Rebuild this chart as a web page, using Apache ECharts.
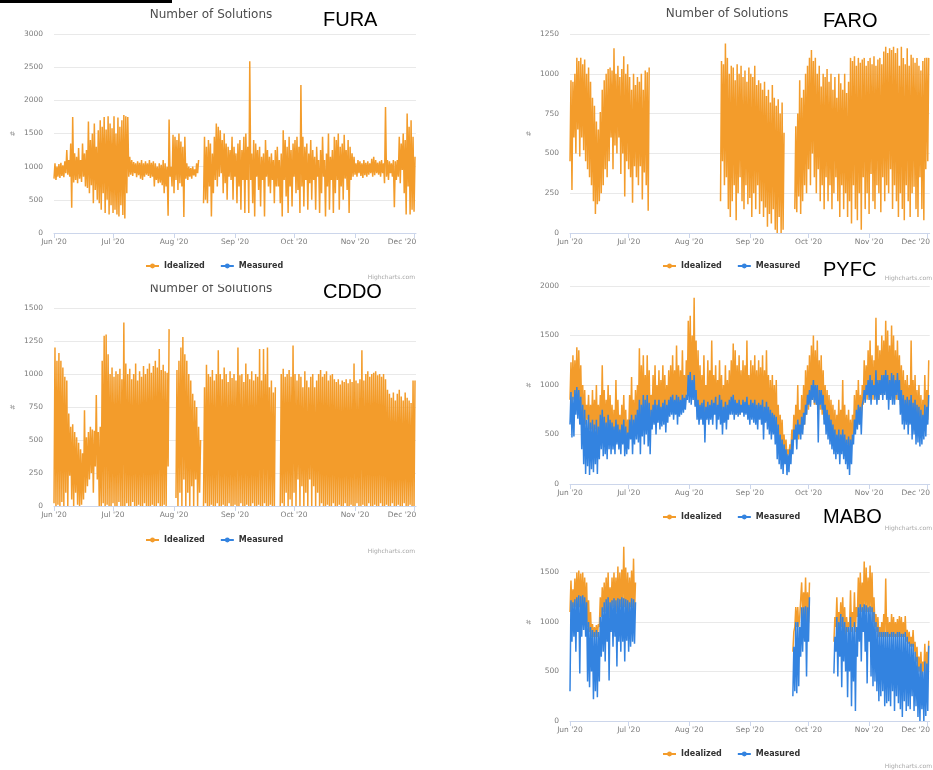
<!DOCTYPE html>
<html>
<head>
<meta charset="utf-8">
<script src="https://cdn.jsdelivr.net/npm/echarts@6/dist/echarts.min.js"></script>
<style>
  html, body { margin: 0; padding: 0; background: #fff; }
  #chart { width: 933px; height: 770px; }
</style>
</head>
<body>
<div id="chart"></div>
<script>
// Day index 0 = 1 Jun 2020, one low and one high reading per day
const monthDays = [0, 30, 61, 92, 122, 153, 183];
const monthLabels = ["Jun '20", "Jul '20", "Aug '20", "Sep '20", "Oct '20", "Nov '20", "Dec '20"];
const seriesNames = ['Idealized', 'Measured'];

const furaLow = [
  820, 800, 850, 830, 860, 840, 900, 880, 850, 380,
  760, 800, 750, 820, 770, 850, 700, 680, 600, 720,
  450, 650, 500, 450, 350, 600, 300, 500, 280, 420,
  300, 350, 280, 250, 420, 270, 220, 600, 850, 880,
  860, 900, 840, 870, 820, 800, 850, 880, 860, 830,
  850, 700, 800, 750, 760, 720, 600, 700, 260, 850,
  700, 600, 800, 650, 750, 700, 240, 820, 800, 850,
  820, 870, 850, 900, null, null, 450, 500, 450, 700,
  250, 600, 800, 700, 850, 900, 600, 750, 500, 850,
  800, 500, 850, 450, 700, 350, 800, 300, 800, 300,
  800, 450, 250, 850, 650, 400, 800, 250, 850, 700,
  600, 800, 450, 700, 700, 450, 250, 800, 550, 300,
  700, 400, 850, 600, 650, 300, 700, 400, 800, 350,
  750, 500, 800, 350, 850, 300, 600, 850, 250, 700,
  350, 800, 300, 600, 800, 350, 700, 500, 820, 650,
  300, 800, 850, 880, 850, 900, 860, 830, 870, 850,
  880, 900, 850, 870, 900, 880, 850, 900, 750, 850,
  800, 900, 850, 390, 800, 850, 750, 950, 600, 280,
  700, 280, 350, 320
];
const furaHigh = [
  1050, 1000, 1040, 1060, 1020, 1080, 1250, 1100, 1350, 1750,
  1200, 1150, 1280, 1100, 1350, 1200, 1250, 1680, 1400, 1500,
  1650, 1300, 1550, 1700, 1600, 1750, 1560, 1760, 1650, 1580,
  1760, 1500, 1740, 1600, 1700, 1780, 1760, 1750, 1150, 1100,
  1070, 1050, 1080, 1060, 1100, 1050, 1080, 1050, 1100, 1060,
  1080, 1050, 1000, 1050, 1030, 1100, 1050, 1000, 1710, 1000,
  1480, 1450, 1400, 1500, 1380, 1300, 1450, 1050, 1000, 980,
  1000, 960, 1050, 1100, null, null, 1450, 1300, 1400, 1350,
  1200, 1450, 1650, 1600, 1550, 1400, 1500, 1350, 1300, 1250,
  1450, 1300, 1200, 1350, 1400, 1250, 1450, 1500, 1300, 2590,
  1200, 1400, 1350, 1250, 1300, 1150, 1200, 1400, 1250, 1150,
  1200, 1100, 1250, 1300, 1100, 1200, 1550, 1400, 1300, 1450,
  1250, 1350, 1400, 1450, 1300, 2230, 1450, 1300, 1350, 1200,
  1400, 1250, 1150, 1300, 1100, 1250, 1450, 1100, 1200, 1500,
  1150, 1250, 1450, 1400, 1500, 1300, 1350, 1480, 1250, 1400,
  1300, 1200, 1150, 1050, 1100, 1080, 1050, 1100, 1060, 1080,
  1050, 1120, 1150, 1100, 1060, 1080, 1100, 1050, 1900, 1100,
  1080, 1050, 1100, 1080, 1100, 1450, 1350, 1500, 1400, 1800,
  1600, 1700, 1450, 1150
];

const faroLow = [
  450, 270, 600, 500, 650, 480, 600, 520, 450, 400,
  350, 300, 200, 120, 180, 200, 250, 300, 400, 350,
  450, 600, 400, 550, 500, 600, 370, 500, 230, 450,
  400, 350, 190, 420, 350, 300, 420, 210, 380, 300,
  140, null, null, null, null, null, null, null, null, null,
  null, null, null, null, null, null, null, null, null, null,
  null, null, null, null, null, null, null, null, null, null,
  null, null, null, null, null, null, null, 200, 450, 300,
  350, 150, 100, 200, 300, 80, 250, 350, 200, 150,
  300, 180, 220, 100, 250, 150, 300, 120, 200, 100,
  160, 40, 120, 60, 150, 20, 0, 100, 0, 20,
  null, null, null, null, null, 150, 130, 230, 120, 200,
  300, 250, 400, 300, 500, 350, 250, 400, 200, 300,
  150, 350, 200, 300, 150, 250, 350, 200, 100, 300,
  150, 250, 100, 200, 60, 300, 150, 80, 250, 20,
  350, 150, 250, 120, 370, 200, 150, 300, 250, 130,
  350, 200, 300, 250, 400, 150, 300, 200, 100, 250,
  150, 80, 300, 200, 100, 250, 290, 150, 100, 350,
  150, 80, 400, 450
];
const faroHigh = [
  960, 950, 1000, 1100, 1080, 1100, 1060, 1090, 1000, 1040,
  950, 850, 800, 700, 650, 760, 900, 960, 1000, 1030,
  1040, 1020, 1160, 1000, 1050, 980, 1030, 1110, 1000, 1060,
  980, 900, 1000, 930, 980, 950, 1000, 900, 1020, 1010,
  1040, null, null, null, null, null, null, null, null, null,
  null, null, null, null, null, null, null, null, null, null,
  null, null, null, null, null, null, null, null, null, null,
  null, null, null, null, null, null, null, 1080, 1060, 1190,
  1100, 1000, 1050, 1040, 960, 1060, 1000, 1050, 980, 1020,
  950, 1040, 1000, 980, 1050, 930, 960, 940, 900, 950,
  860, 900, 820, 930, 850, 800, 840, 750, 820, 630,
  null, null, null, null, null, 670, 750, 960, 850, 900,
  1000, 1050, 1100, 1150, 1080, 1100, 1000, 1050, 920, 1000,
  980, 1030, 950, 1000, 900, 980, 850, 1000, 940, 900,
  1000, 880, 950, 1100, 1080, 1110, 1050, 1100, 1070, 1090,
  1100, 1050, 1080, 1100, 1060, 1110, 1050, 1090, 1100, 1060,
  1140, 1170, 1130, 1160, 1150, 1170, 1130, 1160, 1050, 1170,
  1100, 1060, 1160, 1050, 1120, 1100, 1070, 1100, 1050, 1020,
  1080, 1100, 1100, 1100
];

const cddoLow = [
  20, 0, 10, 0, 30, 0, 100, 0, 230, 50,
  0, 100, 10, 0, 10, 50, 100, 150, 200, 250,
  100, 300, 200, 0, 0, 20, 0, 10, 0, 0,
  20, 0, 0, 30, 0, 0, 0, 20, 0, 0,
  30, 0, 0, 10, 0, 0, 20, 0, 0, 0,
  10, 0, 0, 20, 0, 0, 10, 0, 300, null,
  null, null, 60, 0, 100, 0, 200, 0, 100, 0,
  150, 0, 200, 0, 100, null, 0, 20, 0, 0,
  10, 0, 0, 20, 0, 0, 10, 0, 0, 20,
  0, 0, 10, 0, 0, 20, 0, 0, 10, 0,
  0, 20, 0, 0, 10, 0, 0, 20, 0, 0,
  10, 0, 0, null, null, 0, 20, 0, 100, 0,
  50, 0, 100, 0, 200, 0, 150, 0, 100, 0,
  200, 0, 150, 0, 100, 0, 20, 0, 0, 10,
  0, 0, 20, 0, 0, 10, 0, 0, 20, 0,
  0, 10, 0, 0, 20, 0, 0, 10, 0, 0,
  20, 0, 0, 10, 0, 0, 20, 0, 0, 10,
  0, 0, 20, 0, 0, 10, 0, 0, 20, 0,
  0, 10, 0, 0
];
const cddoHigh = [
  1200, 1100, 1160, 1100, 1050, 980, 950, 700, 600, 620,
  560, 520, 480, 430, 400, 725, 520, 560, 600, 580,
  570, 840, 560, 600, 1100, 1290, 1300, 1150, 1000, 1050,
  980, 1020, 1000, 1040, 960, 1390, 1080, 1000, 1040, 960,
  1000, 1080, 950, 1020, 980, 1060, 1000, 1040, 1080, 1010,
  1060, 1100, 1050, 1190, 1030, 1070, 1020, 1010, 1340, null,
  null, null, 1030, 1100, 1200, 1280, 1150, 1100, 1000, 950,
  850, 800, 750, 600, 500, null, 900, 1070, 1000, 980,
  1030, 950, 1000, 1180, 1000, 960, 1050, 1000, 940, 1020,
  970, 1000, 950, 1200, 990, 1000, 940, 1080, 1000, 960,
  1020, 950, 1000, 980, 1190, 950, 1190, 1000, 1200, 900,
  950, 860, 900, null, null, 1000, 1040, 980, 1000, 1030,
  980, 1215, 1000, 950, 1000, 980, 900, 1020, 950, 900,
  980, 1000, 900, 950, 1000, 1030, 980, 1000, 1020, 950,
  990, 1000, 960, 940, 960, 920, 950, 940, 960, 930,
  960, 940, 1080, 950, 930, 960, 1180, 950, 1000, 1020,
  980, 1000, 1010, 1020, 990, 1000, 980, 1000, 960, 880,
  850, 820, 860, 800, 850, 880, 830, 800, 860, 820,
  800, 780, 950, 950
];

const pyfcIdealLow = [
  850, 800, 850, 880, 850, 800, 700, 650, 600, 650,
  550, 550, 500, 550, 500, 550, 600, 550, 500, 550,
  550, 500, 450, 500, 480, 450, 450, 500, 450, 400,
  500, 550, 500, 550, 600, 650, 650, 700, 650, 700,
  650, 600, 650, 700, 650, 700, 650, 700, 700, 650,
  700, 750, 750, 750, 750, 750, 750, 800, 800, 800,
  900, 950, 900, 900, 800, 750, 700, 700, 700, 650,
  700, 700, 700, 700, 750, 700, 750, 700, 650, 700,
  650, 700, 750, 800, 750, 700, 750, 700, 750, 750,
  750, 700, 700, 700, 700, 700, 700, 700, 700, 650,
  700, 650, 600, 600, 600, 550, 500, 450, 400, 350,
  300, 250, 300, 350, 400, 450, 500, 450, 500, 550,
  600, 700, 750, 800, 850, 800, 800, 750, 750, 700,
  650, 600, 550, 500, 500, 450, 400, 450, 400, 450,
  400, 400, 400, 350, 400, 500, 550, 600, 600, 650,
  800, 850, 850, 900, 850, 850, 900, 850, 850, 900,
  900, 950, 900, 850, 900, 900, 850, 850, 850, 800,
  750, 700, 700, 700, 700, 650, 650, 600, 600, 550,
  550, 600, 600, 650
];
const pyfcIdealHigh = [
  1230, 1300, 1250, 1380, 1350, 1200, 1000, 950, 800, 900,
  800, 950, 850, 1000, 800, 900, 1200, 950, 850, 1000,
  900, 800, 750, 1050, 850, 700, 800, 900, 750, 650,
  900, 1080, 850, 950, 1000, 1370, 1200, 1300, 1100, 1300,
  1150, 900, 1100, 1200, 1000, 1150, 1050, 1200, 1100, 1000,
  1150, 1200, 1300, 1150, 1400, 1200, 1150, 1350, 1100, 1250,
  1650, 1700, 1500, 1880, 1450, 1350, 1200, 1100, 1300, 1000,
  1250, 1150, 1450, 1100, 1200, 1050, 1250, 1100, 1000, 1200,
  1050, 1150, 1250, 1420, 1350, 1200, 1300, 1150, 1250, 1200,
  1450, 1100, 1250, 1200, 1300, 1150, 1250, 1180, 1300, 1150,
  1350, 1100, 1050, 1100, 1000, 1050, 800, 700, 650, 500,
  450, 350, 400, 550, 700, 800, 1000, 750, 900, 1000,
  1150, 1200, 1300, 1400, 1500, 1350, 1450, 1250, 1300, 1150,
  1000, 950, 900, 850, 800, 750, 700, 850, 750, 1050,
  800, 700, 750, 650, 700, 900, 950, 1050, 900, 1000,
  1250, 1200, 1350, 1450, 1300, 1250, 1680, 1400, 1350, 1500,
  1450, 1650, 1550, 1400, 1600, 1500, 1350, 1450, 1300, 1200,
  1150, 1050, 1100, 1000, 1450, 1050, 1100, 950, 1000, 900,
  850, 1100, 950, 1250
];
const pyfcMeasLow = [
  600, 470, 480, 700, 660, 600, 350, 200, 100, 180,
  90, 150, 120, 200, 100, 250, 350, 280, 300, 250,
  350, 300, 350, 300, 400, 350, 300, 400, 280, 300,
  350, 450, 300, 400, 450, 420, 300, 480, 400, 500,
  380, 300, 550, 600, 500, 620, 550, 580, 600, 520,
  620, 680, 700, 650, 700, 600, 680, 700, 720, 750,
  850, 820, 800, 850, 780, 650, 600, 650, 600, 420,
  650, 600, 650, 600, 700, 550, 650, 600, 500, 620,
  550, 650, 700, 700, 650, 700, 680, 700, 720, 680,
  700, 650, 600, 650, 620, 600, 550, 650, 600, 450,
  620, 550, 500, 450, 500, 400, 250, 200, 150, 100,
  200, 90, 120, 200, 300, 450, 350, 500, 450, 500,
  600, 700, 800, 780, 850, 820, 800, 420, 800, 750,
  600, 500, 450, 400, 350, 300, 250, 300, 200, 300,
  250, 200, 150, 90, 200, 400, 500, 550, 600, 500,
  850, 820, 900, 850, 800, 900, 850, 800, 850, 900,
  850, 900, 850, 750, 850, 800, 800, 900, 850, 700,
  600, 550, 600, 500, 600, 450, 500, 400, 420, 380,
  400, 450, 480, 600
];
const pyfcMeasHigh = [
  930, 880, 950, 980, 950, 880, 800, 750, 650, 700,
  620, 650, 600, 650, 580, 700, 750, 680, 620, 700,
  650, 620, 580, 650, 600, 550, 600, 650, 580, 520,
  650, 700, 650, 700, 750, 850, 800, 900, 850, 900,
  820, 750, 800, 850, 800, 850, 780, 820, 850, 800,
  850, 880, 900, 850, 900, 880, 850, 900, 870, 900,
  1100, 1130, 1050, 1100, 950, 850, 800, 820, 850, 780,
  830, 800, 850, 820, 880, 800, 900, 850, 780, 830,
  800, 850, 880, 900, 850, 820, 850, 800, 850, 830,
  880, 800, 850, 820, 850, 800, 820, 800, 850, 780,
  830, 780, 750, 720, 700, 680, 600, 500, 450, 400,
  350, 300, 350, 450, 550, 600, 650, 600, 680, 720,
  800, 900, 950, 1000, 1050, 1000, 1000, 950, 950, 900,
  800, 750, 700, 650, 600, 550, 500, 550, 500, 550,
  500, 450, 480, 450, 500, 650, 750, 800, 780, 800,
  950, 1000, 1050, 1100, 1050, 1000, 1150, 1050, 1050, 1100,
  1100, 1150, 1100, 1050, 1120, 1100, 1050, 1120, 1050, 950,
  900, 850, 880, 850, 900, 820, 850, 800, 780, 750,
  700, 800, 780, 900
];

const maboGap1 = Array(80).fill(null);
const maboGap2 = Array(12).fill(null);
const maboIdealLow = [
  1100, 1100, 1150, 1150, 1150, 1150, 1150, 1150, 1100, 950,
  900, 850, 850, 850, 850, 950, 1050, 1100, 1100, 1100,
  1050, 1100, 1150, 1100, 1100, 1100, 1150, 1150, 1150, 1100,
  1100, 1150, 1150, 1100,
  ...maboGap1,
  700, 950, 950, 950, 1050, 1050, 1050, 1000, 1000,
  ...maboGap2,
  800, 950, 900, 950, 950,
  900, 850, 900, 950, 900, 950, 900, 1050, 1100, 1100,
  1100, 1100, 1100, 1100, 1100, 1000, 950, 900, 850, 850,
  850, 850, 850, 850, 850, 850, 850, 850, 850, 850,
  850, 850, 800, 780, 750, 750, 700, 600, 500, 500,
  450, 500, 450, 500
];
const maboIdealHigh = [
  1420, 1330, 1440, 1500, 1520, 1490, 1500, 1450, 1400, 1220,
  1100, 980, 950, 970, 980, 1250, 1350, 1400, 1450, 1500,
  1350, 1450, 1500, 1450, 1560, 1500, 1530, 1760, 1550, 1500,
  1450, 1520, 1640, 1400,
  ...maboGap1,
  900, 1150, 1150, 1050, 1400, 1300, 1450, 1300, 1400,
  ...maboGap2,
  1050, 1250, 1100, 1200, 1250,
  1150, 1050, 1000, 1320, 1100, 1300, 1150, 1450, 1500, 1400,
  1610, 1550, 1450, 1570, 1500, 1250, 1080, 1050, 950, 1000,
  1080, 1440, 1050, 1000, 1080, 1050, 1000, 1030, 1060, 1050,
  1000, 1060, 920, 900, 850, 920, 800, 750, 650, 700,
  600, 780, 700, 810
];
const maboMeasLow = [
  300, 800, 850, 700, 900, 480, 850, 920, 850, 400,
  340, 500, 220, 300, 240, 400, 650, 700, 600, 800,
  410, 900, 750, 850, 550, 800, 700, 800, 600, 810,
  700, 750, 800, 780,
  ...maboGap1,
  250, 300, 280, 350, 650, 700, 800, 450, 800,
  ...maboGap2,
  480, 700, 450, 650, 340,
  600, 500, 240, 500, 150, 400, 100, 650, 800, 600,
  900, 700, 380, 800, 450, 350, 400, 300, 200, 250,
  300, 150, 180, 200, 150, 300, 100, 250, 180, 120,
  40, 200, 100, 150, 120, 250, 100, 150, 40, 0,
  120, 0, 50, 100
];
const maboMeasHigh = [
  1220, 1200, 1230, 1250, 1270, 1260, 1270, 1250, 1200, 1000,
  950, 920, 900, 920, 900, 1050, 1150, 1200, 1230, 1250,
  1200, 1220, 1240, 1220, 1240, 1230, 1250, 1240, 1230, 1220,
  1200, 1240, 1230, 1200,
  ...maboGap1,
  750, 1000, 1000, 950, 1150, 1150, 1160, 1150, 1250,
  ...maboGap2,
  850, 1050, 1000, 1080, 1050,
  1000, 950, 950, 1050, 950, 1000, 950, 1150, 1180, 1150,
  1180, 1170, 1150, 1160, 1150, 1100, 1000, 950, 900, 900,
  900, 900, 900, 880, 900, 900, 880, 900, 900, 880,
  880, 900, 850, 800, 780, 780, 700, 650, 550, 580,
  500, 600, 580, 760
];

const ORANGE = '#f39c2b';
const BLUE = '#3383e0';
const LABEL = '#7a7a7a';

// low at the start of each day, high at mid-day
function band(low, high) {
  const out = [];
  low.forEach((v, d) => {
    out.push([d, v === null ? '-' : v]);
    out.push([d + 0.5, high[d] === null ? '-' : high[d]]);
  });
  return out;
}

// panel frames: plot area of each screenshot
const panels = [
  {name: 'FURA', grid: {left: 54, top: 34, width: 362, height: 199}, max: 3000, interval: 500},
  {name: 'FARO', grid: {left: 570, top: 34, width: 363, height: 199}, max: 1250, interval: 250},
  {name: 'CDDO', grid: {left: 54, top: 308, width: 362, height: 198}, max: 1500, interval: 250},
  {name: 'PYFC', grid: {left: 570, top: 286, width: 363, height: 198}, max: 2000, interval: 500},
  {name: 'MABO', grid: {left: 570, top: 523, width: 363, height: 198}, max: 2000, interval: 500, hideTop: true}
];

const lineSeries = (name, data, idx, color) => ({
  name: name,
  type: 'line',
  xAxisIndex: idx,
  yAxisIndex: idx,
  data: data,
  color: color,
  symbol: 'circle',
  symbolSize: 5,
  showSymbol: false,
  connectNulls: false,
  lineStyle: {width: 1.5},
  emphasis: {disabled: true},
  animation: false
});

const series = [
  lineSeries('Idealized', band(furaLow, furaHigh), 0, ORANGE),
  lineSeries('Idealized', band(faroLow, faroHigh), 1, ORANGE),
  lineSeries('Idealized', band(cddoLow, cddoHigh), 2, ORANGE),
  lineSeries('Idealized', band(pyfcIdealLow, pyfcIdealHigh), 3, ORANGE),
  lineSeries('Measured', band(pyfcMeasLow, pyfcMeasHigh), 3, BLUE),
  lineSeries('Idealized', band(maboIdealLow, maboIdealHigh), 4, ORANGE),
  lineSeries('Measured', band(maboMeasLow, maboMeasHigh), 4, BLUE)
];

const legendSpots = [[145, 262], [662, 262], [145, 536], [662, 513], [662, 750]];

const text = (str, x, y, font, fill, align) => ({
  type: 'text', x: x, y: y, z: 20,
  style: {text: str, font: font, fill: fill, textAlign: align || 'left', textVerticalAlign: 'middle'}
});
const titleFont = '12px "DejaVu Sans"';
const bigFont = '20px "Liberation Sans"';
const creditFont = '6px "DejaVu Sans"';

const chart = echarts.init(document.getElementById('chart'), null, {renderer: 'canvas'});
chart.setOption({
  animation: false,
  backgroundColor: '#fff',
  grid: panels.map(p => p.grid),
  xAxis: panels.map((p, i) => ({
    type: 'value', gridIndex: i, min: 0, max: 184,
    axisLine: {lineStyle: {color: '#ccd6eb'}},
    axisTick: {show: true, customValues: monthDays, length: 5, lineStyle: {color: '#ccd6eb'}},
    axisLabel: {
      customValues: monthDays, color: LABEL, fontSize: 7.5, fontFamily: 'DejaVu Sans', margin: 5,
      formatter: v => {
        const k = monthDays.indexOf(v);
        return k === monthDays.length - 1 ? '{last|' + monthLabels[k] + '}' : monthLabels[k];
      },
      rich: {last: {color: LABEL, fontSize: 7.5, fontFamily: 'DejaVu Sans', padding: [0, 24, 0, 0]}}
    },
    splitLine: {show: false}
  })),
  yAxis: panels.map((p, i) => ({
    type: 'value', gridIndex: i, min: 0, max: p.max, interval: p.interval,
    name: '#', nameLocation: 'middle', nameGap: 37, nameRotate: 90,
    nameTextStyle: {color: '#999', fontSize: 7, fontFamily: 'DejaVu Sans'},
    axisLine: {show: false},
    axisTick: {show: false},
    axisLabel: {
      color: LABEL, fontSize: 7.5, fontFamily: 'DejaVu Sans', margin: 11,
      showMaxLabel: !p.hideTop, formatter: v => String(v)
    },
    splitLine: {showMaxLine: !p.hideTop, lineStyle: {color: '#e9e9e9', width: 1}}
  })),
  legend: legendSpots.map(s => ({
    left: s[0], top: s[1], padding: 0,
    data: seriesNames,
    selectedMode: false,
    itemWidth: 13, itemHeight: 6, itemGap: 15,
    textStyle: {fontSize: 8, fontWeight: 'bold', color: '#333', fontFamily: 'DejaVu Sans'}
  })),
  series: series,
  graphic: [
    {type: 'rect', shape: {x: 0, y: 0, width: 172, height: 3}, style: {fill: '#000'}, z: 20},
    text('Number of Solutions', 211, 15, titleFont, '#4d4d4d', 'center'),
    text('Number of Solutions', 727, 14, titleFont, '#4d4d4d', 'center'),
    text('Number of Solutions', 211, 289, titleFont, '#4d4d4d', 'center'),
    {type: 'rect', shape: {x: 140, y: 274, width: 150, height: 10.5}, style: {fill: '#fff'}, z: 30},
    text('FURA', 323, 20, bigFont, '#000'),
    text('FARO', 823, 21, bigFont, '#000'),
    text('CDDO', 323, 292, bigFont, '#000'),
    text('PYFC', 823, 270, bigFont, '#000'),
    text('MABO', 823, 517, bigFont, '#000'),
    text('Highcharts.com', 415, 277, creditFont, '#a8a8a8', 'right'),
    text('Highcharts.com', 932, 278, creditFont, '#a8a8a8', 'right'),
    text('Highcharts.com', 415, 551, creditFont, '#a8a8a8', 'right'),
    text('Highcharts.com', 932, 528, creditFont, '#a8a8a8', 'right'),
    text('Highcharts.com', 932, 766, creditFont, '#a8a8a8', 'right')
  ]
});

window.addEventListener('resize', function () {
  chart.resize();
});
</script>
</body>
</html>
